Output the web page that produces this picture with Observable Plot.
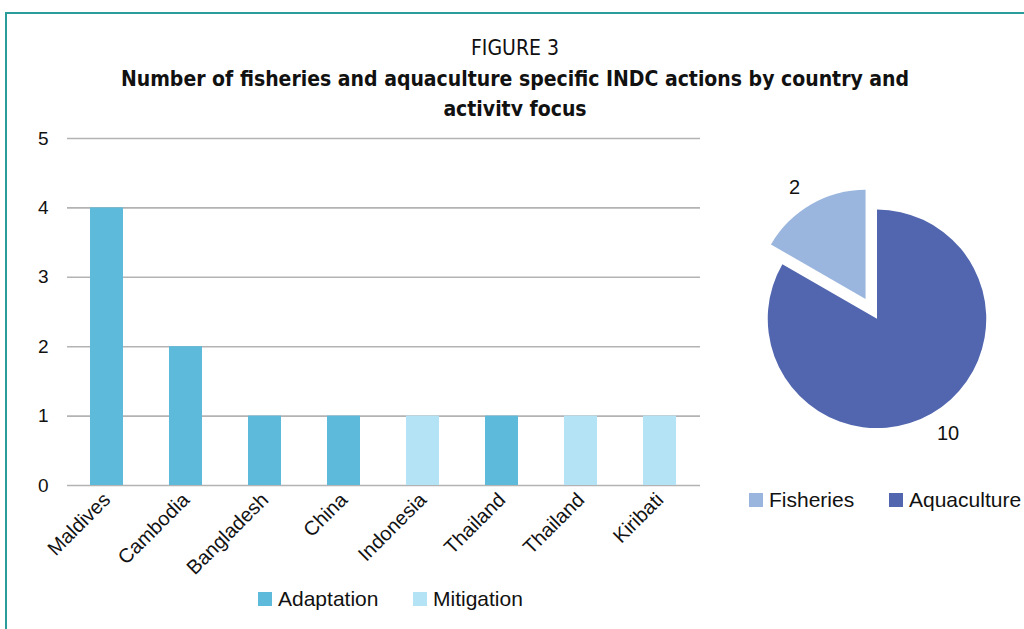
<!DOCTYPE html>
<html>
<head>
<meta charset="utf-8">
<script src="https://cdn.jsdelivr.net/npm/d3@7"></script>
<script src="https://cdn.jsdelivr.net/npm/@observablehq/plot@0.6"></script>
<style>
  html, body { margin: 0; padding: 0; background: #fff; }
  body { width: 1024px; height: 629px; position: relative; overflow: hidden; font-family: "Liberation Sans", Arial, sans-serif; }
  #frame { position: absolute; left: 5px; top: 12px; width: 1030px; height: 640px; border-left: 2px solid #2a9d9a; border-top: 2px solid #2a9d9a; z-index: 5; pointer-events: none; }
  .title { position: absolute; left: 0; width: 1030px; text-align: center; font-family: "DejaVu Sans Condensed", "Liberation Sans Narrow", sans-serif; color: #111; }
  #t1 { top: 36px; font-size: 21px; }
  #t2 { top: 64px; font-size: 21px; font-weight: bold; line-height: 30px; }
  #bar { position: absolute; left: 0; top: 116px; }
  #bar svg text { font-family: "Liberation Sans", Arial, sans-serif; }
  #bar svg g[aria-label="y-axis tick label"] text { font-size: 19px !important; }
  #bar svg g[aria-label="x-axis tick label"] text { font-size: 20px !important; }
  #pie { position: absolute; left: 730px; top: 150px; }
  .leg { position: absolute; font-size: 21px; color: #111; display: flex; align-items: center; line-height: 24px; }
  .sw { display: inline-block; width: 14px; height: 14px; margin-right: 6px; }
  .lbl { position: absolute; font-size: 20px; color: #111; }
</style>
</head>
<body>
<div id="frame"></div>
<div class="title" id="t1">FIGURE 3</div>
<div class="title" id="t2">Number of fisheries and aquaculture specific INDC actions by country and<br>activity focus</div>
<div id="bar"></div>
<div id="pie"></div>
<div id="legBar"></div>
<div id="legPie"></div>
<script>
// ---- Data ----
const countries = ["Maldives", "Cambodia", "Bangladesh", "China", "Indonesia", "Thailand", "Thailand", "Kiribati"];
const actions = [4, 2, 1, 1, 1, 1, 1, 1];
const focus = ["Adaptation", "Adaptation", "Adaptation", "Adaptation", "Mitigation", "Adaptation", "Mitigation", "Mitigation"];
const focusTypes = ["Adaptation", "Mitigation"];
const focusColors = ["#5dbadb", "#b4e3f6"];
const yTicks = [0, 1, 2, 3, 4, 5];

const pieLabels = ["Fisheries", "Aquaculture"];
const pieValues = [2, 10];
const pieColors = ["#9bb6de", "#5166ae"];

// ---- Bar chart ----
const barData = countries.map((c, i) => ({i, country: c, value: actions[i], focus: focus[i]}));
const bar = Plot.plot({
  width: 705,
  height: 467,
  marginLeft: 67,
  marginRight: 5,
  marginTop: 22,
  marginBottom: 98,
  style: {fontFamily: "'Liberation Sans', Arial, sans-serif", fontSize: "18px", color: "#111", background: "#fff", overflow: "visible"},
  x: {domain: d3.range(countries.length), paddingInner: 0.58, paddingOuter: 0.29, label: null},
  y: {domain: [0, 5], label: null},
  color: {domain: focusTypes, range: focusColors},
  marks: [
    Plot.gridY(yTicks, {stroke: "#b3b3b3", strokeOpacity: 1, strokeWidth: 1.6}),
    Plot.barY(barData, {x: "i", y: "value", fill: "focus"}),
    Plot.axisY(yTicks, {tickSize: 0, tickPadding: 19, fontSize: 19, tickFormat: d3.format("d"), label: null}),
    Plot.axisX({tickSize: 0, tickRotate: -45, tickPadding: 11, fontSize: 20, tickFormat: i => countries[i], label: null})
  ]
});
document.getElementById("bar").appendChild(bar);

// bar legend
const legBar = document.getElementById("legBar");
const legPosBar = [258, 413];
focusTypes.forEach((t, k) => {
  const d = document.createElement("div");
  d.className = "leg";
  d.style.left = legPosBar[k] + "px";
  d.style.top = "587px";
  d.innerHTML = `<span class="sw" style="background:${focusColors[k]}"></span>${t}`;
  legBar.appendChild(d);
});

// ---- Pie chart ----
const pieData = pieLabels.map((l, i) => ({label: l, value: pieValues[i]}));
const color = Plot.scale({color: {domain: pieLabels, range: pieColors}});
const R = 110, explode = 23;
const pieMark = (index, scales, values, dims) => {
  const cx = dims.width / 2, cy = 170;
  const arcs = d3.pie().sort(null).value(d => d.value)([pieData[1], pieData[0]]);
  const arc = d3.arc().innerRadius(0).outerRadius(R);
  const g = d3.create("svg:g");
  arcs.forEach(a => {
    const mid = (a.startAngle + a.endAngle) / 2;
    const off = a.data.label === "Fisheries" ? explode : 0;
    const dx = Math.sin(mid) * off, dy = -Math.cos(mid) * off;
    g.append("path")
      .attr("d", arc(a))
      .attr("fill", color.apply(a.data.label))
      .attr("transform", `translate(${cx + dx},${cy + dy})`);
  });
  return g.node();
};
const pie = Plot.plot({
  width: 296,
  height: 320,
  margin: 0,
  style: {overflow: "visible", background: "transparent"},
  marks: [pieMark]
});
document.getElementById("pie").appendChild(pie);

// pie value labels
const lab2 = document.createElement("div");
lab2.className = "lbl"; lab2.style.left = "789px"; lab2.style.top = "176px"; lab2.textContent = pieValues[0];
document.body.appendChild(lab2);
const lab10 = document.createElement("div");
lab10.className = "lbl"; lab10.style.left = "937px"; lab10.style.top = "422px"; lab10.textContent = pieValues[1];
document.body.appendChild(lab10);

// pie legend
const legPie = document.getElementById("legPie");
const legPosPie = [749, 889];
pieLabels.forEach((t, k) => {
  const d = document.createElement("div");
  d.className = "leg";
  d.style.left = legPosPie[k] + "px";
  d.style.top = "488px";
  d.innerHTML = `<span class="sw" style="background:${pieColors[k]}"></span>${t}`;
  legPie.appendChild(d);
});
</script>
</body>
</html>
